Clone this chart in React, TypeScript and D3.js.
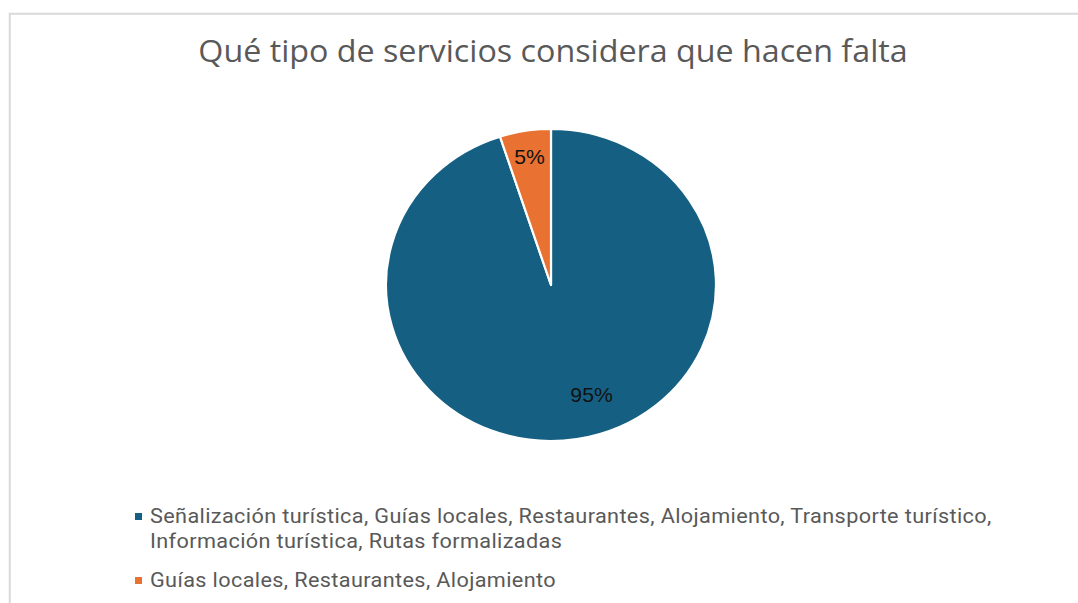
import React from "react";
import * as d3 from "d3";

const title = "Qué tipo de servicios considera que hacen falta";
const categories = [
  "Señalización turística, Guías locales, Restaurantes, Alojamiento, Transporte turístico, Información turística, Rutas formalizadas",
  "Guías locales, Restaurantes, Alojamiento",
];
const legendLines = [
  ["Señalización turística, Guías locales, Restaurantes, Alojamiento, Transporte turístico,", "Información turística, Rutas formalizadas"],
  ["Guías locales, Restaurantes, Alojamiento"],
];
const values = [95, 5];
const colors = ["#156082", "#E97132"];

const W = 1078;
const H = 603;
const cx = 551;
const cy = 285;
const r = 156;
const sx = 165 / 156;
const FONT = "'Open Sans', 'Liberation Sans', sans-serif";
const LEGFONT = "Roboto, 'Liberation Sans', sans-serif";
const LFONT = "'Liberation Sans', Arial, sans-serif";

export default function App() {
  const pie = d3.pie<number>().sort(null).value((d) => d);
  const arcsData = pie(values);
  const arc = d3.arc<d3.PieArcDatum<number>>().innerRadius(0).outerRadius(r);
  const total = d3.sum(values);

  return (
    <div style={{ position: "fixed", left: 0, top: 0, width: W, height: H, background: "#fff" }}>
      <svg width={W} height={H} style={{ display: "block" }}>
        <rect x={0} y={0} width={W} height={H} fill="#fff" />
        <path d={`M9.75,${H} V13.75 H${W}`} fill="none" stroke="#d9d9d9" strokeWidth={2} />
        <g transform={`scale(${sx},1)`}>
          <text x={553 / sx} y={62} textAnchor="middle" fontFamily={FONT} fontSize={30.5} fill="#595959">
            {title}
          </text>
        </g>
        <g transform={`translate(${cx},${cy}) scale(${sx},1)`}>
          {arcsData.map((a, i) => (
            <path key={i} d={arc(a) || ""} fill={colors[i]} stroke="#fff" strokeWidth={2.2} vectorEffect="non-scaling-stroke" strokeLinejoin="round" />
          ))}
        </g>
        {arcsData.map((a, i) => {
          const span = a.endAngle - a.startAngle;
          const big = span > Math.PI;
          const mid = big ? a.startAngle + span * 0.47 : (a.startAngle + a.endAngle) / 2;
          const lr = big ? 0.745 * r : 0.83 * r;
          const x = cx + Math.sin(mid) * lr * sx;
          const y = cy - Math.cos(mid) * lr;
          return (
            <g key={i} transform={`scale(${sx},1)`}>
              <text x={x / sx} y={y + 7} textAnchor="middle" fontFamily={LFONT} fontSize={20} fill="#111">
                {Math.round((values[i] / total) * 100) + "%"}
              </text>
            </g>
          );
        })}
        {legendLines.map((lines, i) => {
          const y0 = i === 0 ? 523 : 587;
          return (
            <g key={i}>
              <rect x={135} y={y0 - 10} width={7} height={7} fill={colors[i]} />
              <g transform={`scale(${sx},1)`}>
                {lines.map((l, j) => (
                  <text key={j} x={150 / sx} y={y0 + j * 25} fontFamily={LEGFONT} fontSize={20.5} letterSpacing={0.35} fill="#595959">
                    {l}
                  </text>
                ))}
              </g>
            </g>
          );
        })}
      </svg>
    </div>
  );
}
